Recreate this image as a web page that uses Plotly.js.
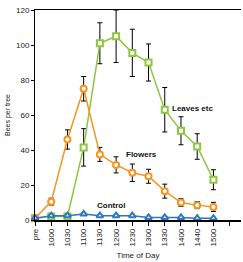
<!DOCTYPE html>
<html><head><meta charset="utf-8">
<script src="https://cdn.plot.ly/plotly-3.0.1.min.js"></script>
<style>html,body{margin:0;padding:0;background:#fff}#c{width:243px;height:262px}</style>
</head><body><div id="c"></div>
<script>
const timeLabels = ["pre","1000","1030","1100","1130","1200","1230","1300","1330","1400","1440","1500"];
const flowers = [1, 10.5, 46, 75, 37.5, 31.5, 27, 25, 16.5, 10, 8.5, 7.5];
const flowersErr = [0, 2, 5.5, 7, 4, 4.6, 5, 4, 4, 2.2, 2, 2.6];
const leaves = [1, 2, 2, 41.5, 101, 105, 95.5, 90, 63, 51, 42, 23];
const leavesErr = [0, 0, 0, 10.7, 11.7, 15, 13.5, 10.6, 12.7, 8, 7.3, 5.7];
const control = [1, 2.5, 2.5, 3.5, 2.5, 2.5, 2.5, 1.5, 1.5, 1.5, 1, 1];
const controlErr = [0, 0.4, 0.4, 0.5, 0.4, 0.4, 0.4, 0.3, 0.3, 0.3, 0.3, 0.3];

const xIdx = timeLabels.map((_, i) => i);
const tickVals = xIdx.concat([timeLabels.length]);
const tickText = timeLabels.concat([""]);

function series(y, err, color, symbol, name) {
  return {
    x: xIdx, y: y, name: name, type: "scatter", mode: "lines+markers",
    line: {color: color, width: 1.5},
    marker: {symbol: symbol, size: 6, color: "#ffffff", line: {color: color, width: 2}},
    error_y: {type: "data", array: err, visible: true, color: "#000", thickness: 1, width: 2.5},
    cliponaxis: false
  };
}

const data = [
  series(leaves, leavesErr, "#8dc63f", "square", "Leaves etc"),
  series(flowers, flowersErr, "#f7941d", "circle", "Flowers"),
  series(control, controlErr, "#2b79c2", "triangle-up", "Control")
];

const font = {family: "Liberation Sans, Arial, sans-serif", size: 8, color: "#222"};
const layout = {
  width: 243, height: 262,
  margin: {l: 35, r: 2, t: 10, b: 42},
  showlegend: false,
  paper_bgcolor: "#fff", plot_bgcolor: "#fff",
  font: font,
  xaxis: {
    range: [0, 12.7], tickmode: "array", tickvals: tickVals, ticktext: tickText,
    tickangle: -90, ticks: "outside", ticklen: 4, tickwidth: 1, tickcolor: "#000",
    showgrid: false, zeroline: false, showline: true, linecolor: "#000", linewidth: 1.5,
    mirror: true, tickfont: {size: 8},
    title: {text: "Time of Day", font: {size: 8}, standoff: 7}
  },
  yaxis: {
    range: [0, 120], tickvals: [0, 20, 40, 60, 80, 100, 120],
    ticks: "outside", ticklen: 3, tickcolor: "#000",
    showgrid: false, zeroline: false, showline: true, linecolor: "#000", linewidth: 1,
    tickfont: {size: 8},
    title: {text: "Bees per tree", font: {size: 7}, standoff: 4}
  },
  annotations: [
    {x: 8.35, y: 63.5, xref: "x", yref: "y", text: "<b>Leaves etc</b>", showarrow: false, xanchor: "left", font: {size: 8, color: "#111"}},
    {x: 5.5, y: 37.5, xref: "x", yref: "y", text: "<b>Flowers</b>", showarrow: false, xanchor: "left", font: {size: 8, color: "#111"}},
    {x: 3.7, y: 8.5, xref: "x", yref: "y", text: "<b>Control</b>", showarrow: false, xanchor: "left", font: {size: 8, color: "#111"}}
  ]
};

Plotly.newPlot("c", data, layout, {displayModeBar: false, staticPlot: true});
</script></body></html>
